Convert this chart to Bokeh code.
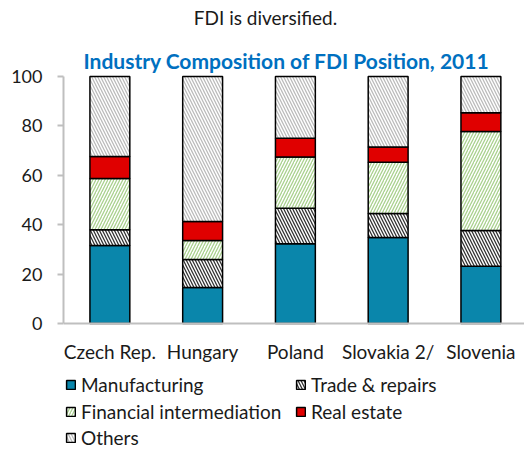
from bokeh.plotting import figure
from bokeh.models import Range1d, FixedTicker, Label, Legend, LegendItem, ColumnDataSource
from bokeh.embed import file_html
from bokeh.resources import INLINE

countries = ["Czech Rep.", "Hungary", "Poland", "Slovakia 2/", "Slovenia"]
manufacturing = [31.6, 14.6, 32.3, 34.8, 23.2]
trade = [6.4, 11.3, 14.4, 9.7, 14.5]
financial = [20.7, 7.7, 20.7, 20.8, 40.0]
real_estate = [8.9, 7.7, 7.6, 6.2, 7.6]
others = [32.4, 58.7, 25.0, 28.5, 14.7]

series = ["Manufacturing", "Trade & repairs", "Financial intermediation", "Real estate", "Others"]
keys = ["m", "t", "f", "r", "o"]
y_ticks = [0, 20, 40, 60, 80, 100]

FONT = "Lato"
W, H = 524, 451
LEFT = 63
PX_PER_UNIT = 2.47
TOP_PX = 76          # pixel row of value 100
Y_MAX = 100 + TOP_PX / PX_PER_UNIT
Y_MIN = Y_MAX - H / PX_PER_UNIT

src = ColumnDataSource(dict(x=list(range(len(countries))), m=manufacturing, t=trade,
                            f=financial, r=real_estate, o=others))

p = figure(width=W, height=H, output_backend="svg", toolbar_location=None,
           x_range=Range1d(-0.5, 4.47), y_range=Range1d(Y_MIN, Y_MAX),
           min_border_left=LEFT, min_border_right=0, min_border_top=0, min_border_bottom=0)

renderers = p.vbar_stack(keys, x="x", width=0.43, source=src,
                         fill_color=["#0A86AB", "white", "white", "#E00000", "white"],
                         hatch_pattern=[" ", "\\", "/", " ", "\\"],
                         hatch_color=["#0A86AB", "#333333", "#A9D18E", "#E00000", "#BBBBBB"],
                         hatch_scale=6, hatch_weight=1.3,
                         line_color="black", line_width=1.5)

p.xgrid.visible = False
p.ygrid.visible = False
p.outline_line_color = None
p.background_fill_color = None

p.yaxis.ticker = FixedTicker(ticks=y_ticks)
p.yaxis.bounds = (0, 100)
p.xaxis.ticker = FixedTicker(ticks=list(range(len(countries))))
p.xaxis.major_label_overrides = {i: c for i, c in enumerate(countries)}
p.xaxis.fixed_location = 0
for ax in (p.xaxis, p.yaxis):
    ax.axis_line_color = "#BFBFBF"
    ax.axis_line_width = 2
    ax.major_tick_line_color = "#BFBFBF"
    ax.major_tick_line_width = 2
    ax.minor_tick_line_color = None
    ax.major_label_text_font = FONT
    ax.major_label_text_color = "#1a1a1a"
p.xaxis.major_label_text_font_size = "19px"
p.yaxis.major_label_text_font_size = "18px"
p.yaxis.major_tick_out = 6
p.yaxis.major_tick_in = 0
p.yaxis.major_label_standoff = 15
p.xaxis.major_tick_out = 0
p.xaxis.major_tick_in = 0
p.xaxis.major_label_standoff = 16

def px_to_y(py):
    return Y_MAX - py / PX_PER_UNIT

def px_to_x(px):
    return -0.5 + (px - LEFT) / ((W - LEFT) / 4.97)

p.add_layout(Label(x=px_to_x(265), y=px_to_y(17), text="FDI is diversified.",
                   text_font=FONT, text_font_size="19px", text_color="#1a1a1a",
                   text_align="center", text_baseline="middle"))
p.add_layout(Label(x=px_to_x(286), y=px_to_y(60), text="Industry Composition of FDI Position, 2011",
                   text_font=FONT, text_font_size="21px", text_font_style="bold",
                   text_color="#0070C0", text_align="center", text_baseline="middle"))

rows = [[0, 1], [2, 3], [4]]
row_bottoms = [54, 27, 1]
for row, vy in zip(rows, row_bottoms):
    items = [LegendItem(label=series[i], renderers=[renderers[i]]) for i in row]
    legend = Legend(items=items, orientation="horizontal",
                    label_text_font=FONT, label_text_font_size="19px", label_text_color="#1a1a1a",
                    glyph_width=11, glyph_height=11, label_standoff=5, spacing=1,
                    label_width=213, label_height=26, padding=0, margin=0,
                    border_line_color=None, background_fill_alpha=0,
                    location=(2, vy))
    p.add_layout(legend, "center")

open("out.html", "w").write(file_html(p, INLINE))
